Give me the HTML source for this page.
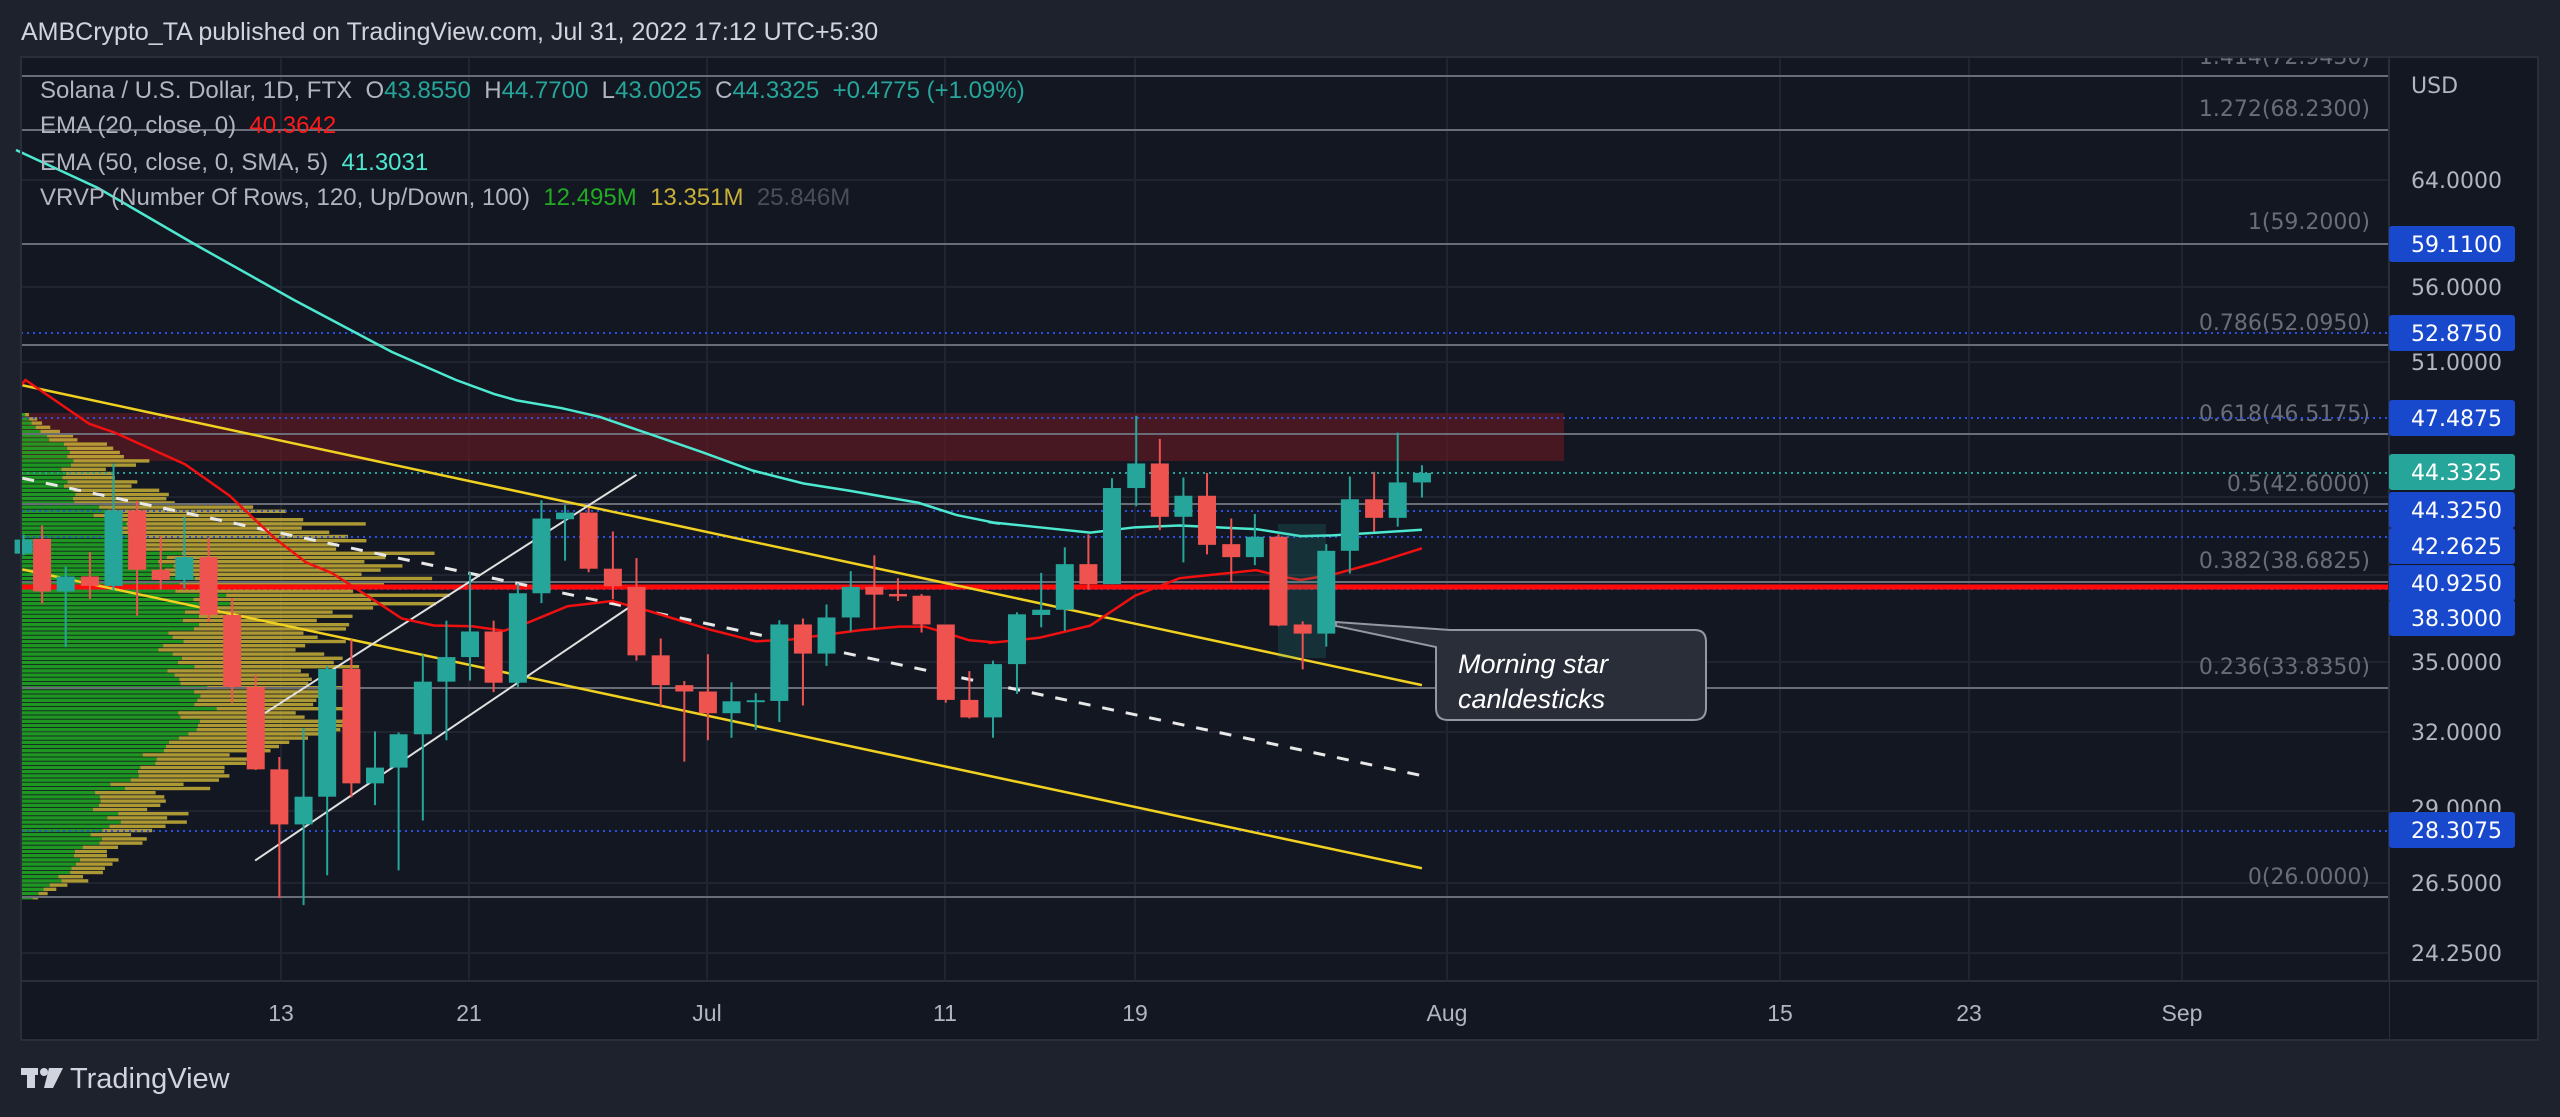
<!DOCTYPE html>
<html><head><meta charset="utf-8"><style>
html,body{margin:0;padding:0;background:#1e222d;width:2560px;height:1117px;overflow:hidden}
svg{display:block}
text{font-family:"Liberation Sans","DejaVu Sans",sans-serif}
.ax{font-family:"DejaVu Sans",sans-serif;font-size:22px;fill:#b2b5be}
.fib{font-family:"DejaVu Sans",sans-serif;font-size:22px;fill:#6a6d78;text-anchor:end}
.lg{font-size:24px;fill:#b2b5be;white-space:pre}
</style></head><body>
<svg id="s" width="2560" height="1117" viewBox="0 0 2560 1117" xmlns="http://www.w3.org/2000/svg" xml:space="preserve">
<defs><clipPath id="pc"><rect x="21" y="57" width="2368" height="924"/></clipPath></defs>
<rect width="2560" height="1117" fill="#1e222d"/>
<rect x="21" y="57" width="2517" height="983" fill="#131722"/>
<g id="grid"></g>
<rect x="21" y="413" width="1543" height="48" fill="#5a1a22" opacity="0.75"/>
<g id="vrvp"></g>
<g id="fibs" clip-path="url(#pc)"></g>
<g id="lines"></g>
<g id="candles"></g>
<g id="over"></g>
<line x1="2389" y1="57" x2="2389" y2="1040" stroke="#2a2e39" stroke-width="2"/>
<line x1="21" y1="981" x2="2538" y2="981" stroke="#2a2e39" stroke-width="2"/>
<rect x="21" y="982" width="2368" height="58" fill="#131722"/>
<rect x="2390" y="982" width="148" height="58" fill="#131722"/>
<rect x="21" y="57" width="2517" height="983" fill="none" stroke="#2a2e39" stroke-width="2"/>
<g id="axis"></g>
<text x="21" y="40" font-size="25" fill="#d1d4dc">AMBCrypto_TA published on TradingView.com, Jul 31, 2022 17:12 UTC+5:30</text>
<text x="40" y="98" class="lg">Solana / U.S. Dollar, 1D, FTX  O<tspan fill="#26a69a">43.8550</tspan>  H<tspan fill="#26a69a">44.7700</tspan>  L<tspan fill="#26a69a">43.0025</tspan>  C<tspan fill="#26a69a">44.3325</tspan>  <tspan fill="#26a69a">+0.4775 (+1.09%)</tspan></text>
<text x="40" y="133" class="lg">EMA (20, close, 0)  <tspan fill="#ff1a1a">40.3642</tspan></text>
<text x="40" y="170" class="lg">EMA (50, close, 0, SMA, 5)  <tspan fill="#4de8d0">41.3031</tspan></text>
<text x="40" y="205" class="lg">VRVP (Number Of Rows, 120, Up/Down, 100)  <tspan fill="#22ab22">12.495M</tspan>  <tspan fill="#c9b037">13.351M</tspan>  <tspan fill="#4a4e59">25.846M</tspan></text>
<g fill="#d1d4dc">
<rect x="21" y="1068" width="17" height="7"/><rect x="27" y="1068" width="8" height="20"/>
<circle cx="44" cy="1072" r="4"/><polygon points="49,1068 63,1068 53,1088 44,1088"/>
</g>
<text x="70" y="1088" font-size="29" fill="#d1d4dc">TradingView</text>
</svg>
<script>
const NS="http://www.w3.org/2000/svg";
function el(p,t,a,txt){const e=document.createElementNS(NS,t);for(const k in a)e.setAttribute(k,a[k]);if(txt!=null)e.textContent=txt;document.getElementById(p).appendChild(e);return e;}
const Y=zy=>380+zy/2.851, X1=zx=>zx/1.568, X2=zx=>950+zx/1.568;
[180,287,362,497,575,662,732,811,883,953].forEach(y=>el("grid","line",{x1:21,x2:2389,y1:y,y2:y,stroke:"#1f2430","stroke-width":2}));
[281,469,707,945,1135,1447,1780,1969,2182].forEach(x=>el("grid","line",{x1:x,x2:x,y1:57,y2:981,stroke:"#1f2430","stroke-width":2}));
const kp=[[413,8,.5],[430,40,.5],[450,100,.5],[460,120,.4],[470,90,.5],[480,110,.4],[500,170,.35],[520,300,.3],[540,330,.35],[555,370,.4],[570,380,.4],[585,380,.45],[600,380,.5],[620,300,.55],[640,330,.5],[660,300,.5],[680,290,.55],[700,320,.6],[720,300,.55],[740,250,.55],[760,240,.6],[780,180,.55],[800,140,.55],[820,150,.6],[840,110,.65],[860,90,.6],[880,60,.6],[900,10,.7]];
function interp(y){for(let i=0;i<kp.length-1;i++){if(y>=kp[i][0]&&y<=kp[i+1][0]){const t=(y-kp[i][0])/(kp[i+1][0]-kp[i][0]);return [kp[i][1]+t*(kp[i+1][1]-kp[i][1]),kp[i][2]+t*(kp[i+1][2]-kp[i][2])];}}return [0,.5];}
let seed=7;function rnd(){seed=(seed*9301+49297)%233280;return seed/233280;}
for(let y=413;y<902;y+=4.2){const [w,g]=interp(y);const W=w*(0.85+0.3*rnd());const gw=W*g;
el("vrvp","rect",{x:21,y:y,width:gw,height:3.4,fill:"#22ab22",opacity:.85});
el("vrvp","rect",{x:21+gw,y:y,width:W-gw,height:3.4,fill:"#c9b037",opacity:.85});}
[76,130,244,345,434,504,582,688,897].forEach(y=>el("fibs","line",{x1:21,x2:2389,y1:y,y2:y,stroke:"#6a6d78","stroke-width":2}));
[[56,"1.414(72.9430)"],[108,"1.272(68.2300)"],[221,"1(59.2000)"],[322,"0.786(52.0950)"],[413,"0.618(46.5175)"],[483,"0.5(42.6000)"],[560,"0.382(38.6825)"],[666,"0.236(33.8350)"],[876,"0(26.0000)"]].forEach(([y,t])=>el("fibs","text",{x:2370,y:y+8,class:"fib"},t));
[333,418,511,537,589,831].forEach(y=>el("lines","line",{x1:21,x2:2389,y1:y,y2:y,stroke:"#2950e0","stroke-width":2,"stroke-dasharray":"2 4"}));
el("lines","line",{x1:21,x2:2389,y1:473,y2:473,stroke:"#26a69a","stroke-width":2,"stroke-dasharray":"2 4"});
el("lines","line",{x1:21,x2:2389,y1:587,y2:587,stroke:"#ff0a0a","stroke-width":5});
function ln(g,a,b,c,d,col,w,da){const o={x1:a,y1:b,x2:c,y2:d,stroke:col,"stroke-width":w};if(da)o["stroke-dasharray"]=da;el(g,"line",o);}
ln("lines",X1(35),Y(15),X2(740),Y(870),"#f0d020",2.5);
ln("lines",X1(35),Y(540),X2(740),Y(1392),"#f0d020",2.5);
ln("lines",X1(35),Y(280),X2(740),Y(1128),"#e8e8e8",3,"12 12");
ln("lines",X1(415),Y(950),X1(998),Y(270),"#e0e0e0",2);
ln("lines",X1(400),Y(1370),X1(985),Y(650),"#e0e0e0",2);
let p50=[[16,150],[98,188],[196,245],[294,300],[392,352],[456,380]];
[[775,40],[810,58],[880,80],[940,105],[1020,155],[1100,205],[1180,258],[1260,295],[1330,315],[1440,350],[1500,385],[1568,410]].forEach(([a,b])=>p50.push([X1(a),Y(b)]));
[[60,405],[140,420],[220,435],[290,420],[360,415],[440,422],[480,425],[550,445],[600,443],[670,435],[740,427]].forEach(([a,b])=>p50.push([X2(a),Y(b)]));
el("lines","polyline",{points:p50.map(p=>p.join(",")).join(" "),fill:"none",stroke:"#4de8d0","stroke-width":2.5});
let p20=[];
[[40,0],[140,125],[180,150],[290,240],[360,330],[430,450],[480,520],[520,550],[580,620],[630,680],[680,700],[740,702],[790,715],[830,690],[890,645],[960,630],[1020,660],[1110,710],[1185,745],[1240,740],[1300,725],[1350,713],[1410,703],[1450,703],[1520,742],[1560,748]].forEach(([a,b])=>p20.push([X1(a),Y(b)]));
[[60,750],[140,735],[220,700],[290,615],[360,565],[440,550],[480,542],[520,560],[550,570],[600,555],[670,520],[740,480]].forEach(([a,b])=>p20.push([X2(a),Y(b)]));
p20.unshift([21,385]);
el("lines","polyline",{points:p20.map(p=>p.join(",")).join(" "),fill:"none",stroke:"#f01010","stroke-width":2.5});
el("lines","rect",{x:1278,y:524,width:48,height:134,fill:"#26a69a",opacity:.18});
const c1=[[37,455,495,440,500,1],[66,453,603,415,638,0],[103,560,603,532,762,1],[141,560,587,490,625,0],[178,372,587,238,600,1],[215,372,541,345,672,0],[252,541,570,445,597,0],[289,505,570,390,595,1],[327,505,670,450,690,0],[364,670,875,622,920,0],[401,875,1110,840,1112,0],[438,1110,1267,1075,1477,0],[476,1188,1267,992,1497,1],[513,824,1188,815,1412,1],[551,824,1150,740,1190,0],[588,1105,1150,1002,1212,1],[625,1010,1105,1005,1398,1],[663,860,1010,783,1256,1],[700,790,860,686,1027,1],[737,717,790,548,857,1],[774,717,863,686,890,0],[812,608,863,580,876,1],[849,395,608,343,636,1],[886,378,397,357,515,1],[923,378,538,365,548,0],[961,538,588,432,625,0],[998,590,785,508,800,0],[1036,785,870,737,930,0],[1073,870,888,858,1088,0],[1110,888,950,782,1027,0],[1147,916,950,862,1020,1],[1185,913,918,893,998,1],[1222,697,915,685,975,1],[1259,697,780,680,928,0],[1296,677,780,640,815,1],[1334,590,677,545,717,1],[1371,590,612,500,710,0],[1408,610,617,565,630,0],[1445,615,697,610,720,0],[1483,697,912,697,920,0],[1520,912,962,830,965,0],[1557,810,962,800,1020,1]];
const c2=[[105,668,810,662,895,1],[143,655,670,550,705,1],[180,525,655,477,715,1],[217,525,582,440,598,0],[254,308,582,280,582,1],[292,238,308,102,360,1],[329,238,390,168,428,0],[366,330,390,278,520,1],[403,330,470,265,497,0],[441,468,505,395,578,0],[478,447,505,382,528,1],[515,447,700,440,702,0],[553,697,723,688,825,0],[590,487,723,468,760,1],[627,340,487,275,552,1],[665,340,393,262,432,0],[702,292,393,150,418,1],[740,265,292,243,335,1]];
function candle(x,c){const col=c[5]?"#26a69a":"#ef5350";const bt=Y(c[1]),bb=Y(c[2]);
el("candles","line",{x1:x,x2:x,y1:Y(c[3]),y2:Y(c[4]),stroke:col,"stroke-width":2});
el("candles","rect",{x:x-9,y:bt,width:18,height:Math.max(2,bb-bt),fill:col});}
c1.forEach(c=>candle(X1(c[0]),c));c2.forEach(c=>candle(X2(c[0]),c));
el("over","path",{d:"M1336,622 L1450,630 L1695,630 Q1706,630 1706,642 L1706,708 Q1706,720 1694,720 L1448,720 Q1436,720 1436,708 L1436,647 L1336,626 Z",fill:"#2a2e39",stroke:"#9598a1","stroke-width":2});
el("over","text",{x:1458,y:673,"font-size":27,"font-style":"italic",fill:"#ffffff"},"Morning star");
el("over","text",{x:1458,y:708,"font-size":27,"font-style":"italic",fill:"#ffffff"},"canldesticks");
[[180,"64.0000"],[287,"56.0000"],[362,"51.0000"],[662,"35.0000"],[732,"32.0000"],[808,"29.0000"],[883,"26.5000"],[953,"24.2500"]].forEach(([y,t])=>el("axis","text",{x:2411,y:y+8,class:"ax"},t));
el("axis","text",{x:2411,y:93,class:"ax"},"USD");
[[244,"59.1100"],[333,"52.8750"],[418,"47.4875"],[510,"44.3250"],[546,"42.2625"],[583,"40.9250"],[618,"38.3000"],[830,"28.3075"],[472,"44.3325"]].forEach(([y,t],i)=>{
el("axis","rect",{x:2389,y:y-18,width:126,height:36,rx:3,fill:i==8?"#26a69a":"#1848cc"});
el("axis","text",{x:2411,y:y+8,class:"ax",style:"fill:#fff"},t);});
[[281,"13"],[469,"21"],[707,"Jul"],[945,"11"],[1135,"19"],[1447,"Aug"],[1780,"15"],[1969,"23"],[2182,"Sep"]].forEach(([x,t])=>el("axis","text",{x:x,y:1021,"text-anchor":"middle","font-size":23,fill:"#b2b5be"},t));
</script>
</body></html>
